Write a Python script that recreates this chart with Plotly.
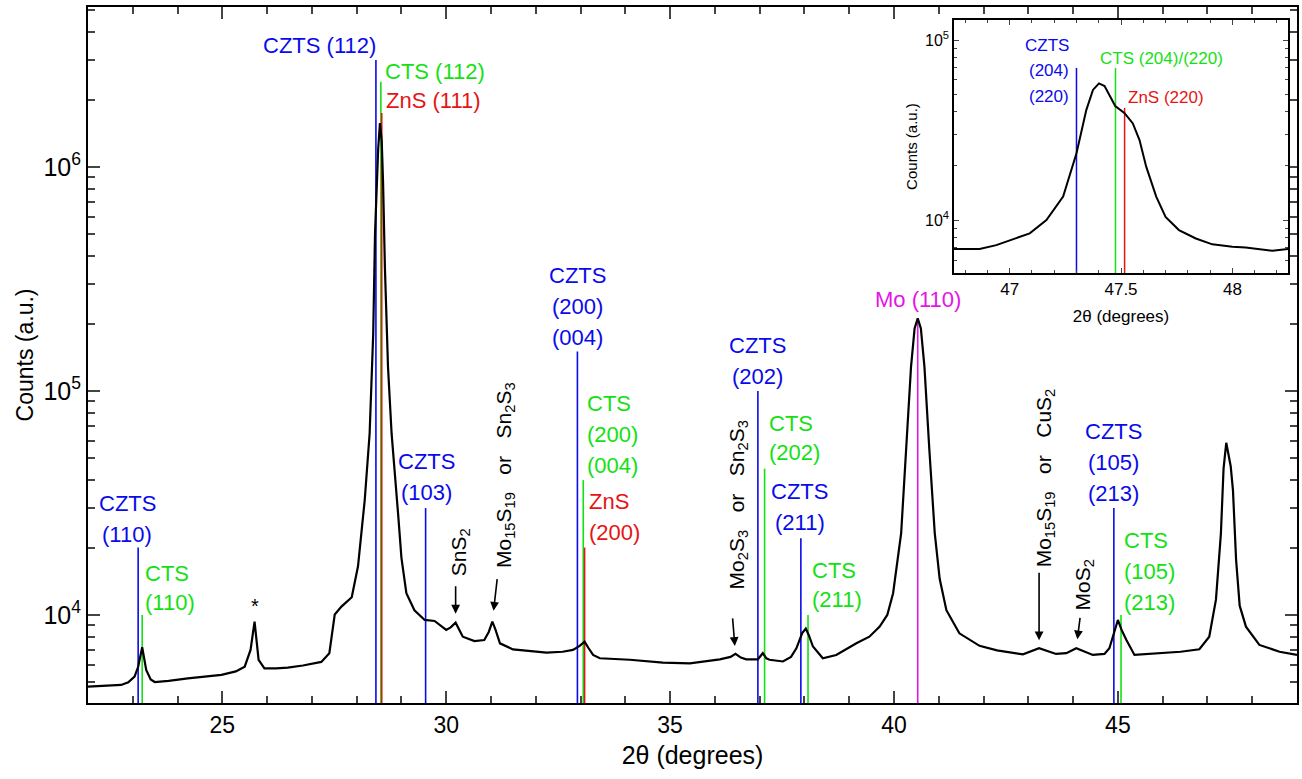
import plotly.graph_objects as go
import math

# ---------------- data ----------------
two_theta = [22.0, 22.4, 22.74, 22.9, 23.04, 23.12, 23.21, 23.30, 23.40, 23.49, 23.8, 24.23, 24.6, 24.98,
             25.3, 25.5, 25.63, 25.72, 25.81, 25.94, 26.2, 26.46, 26.8, 27.21, 27.39, 27.45, 27.51, 27.66,
             27.80, 27.89, 28.03, 28.18, 28.29, 28.37, 28.41, 28.48, 28.52, 28.56, 28.59, 28.63, 28.70,
             28.78, 28.93, 29.0, 29.11, 29.29, 29.52, 29.74, 30.0, 30.10, 30.21, 30.30, 30.37, 30.63,
             30.85, 30.95, 31.03, 31.10, 31.2, 31.49, 31.9, 32.24, 32.6, 32.83, 32.98, 33.09, 33.18,
             33.28, 33.43, 34.1, 34.84, 35.44, 36.11, 36.35, 36.46, 36.58, 36.70, 36.96, 37.07, 37.15,
             37.22, 37.52, 37.70, 37.82, 37.95, 38.03, 38.10, 38.19, 38.41, 38.71, 39.16, 39.45, 39.68,
             39.85, 39.98, 40.16, 40.27, 40.38, 40.46, 40.53, 40.60, 40.68, 40.79, 40.91, 41.02, 41.17,
             41.46, 41.91, 42.3, 42.65, 42.88, 43.24, 43.62, 43.85, 44.07, 44.44, 44.70, 44.81, 44.92,
             45.0, 45.08, 45.19, 45.37, 45.7, 46.0, 46.4, 46.82, 47.04, 47.19, 47.30, 47.36, 47.42,
             47.47, 47.52, 47.57, 47.64, 47.72, 47.86, 48.16, 48.61, 49.0]
counts = [4790, 4850, 4870, 5000, 5310, 5870, 7180, 5680, 5150, 5020, 5080, 5210, 5300, 5400,
          5600, 5880, 6980, 9330, 6300, 5780, 5780, 5820, 5950, 6170, 6750, 8500, 10050, 10900,
          11500, 12000, 16500, 32600, 64700, 181000, 506000, 1200000, 1570000, 1300000, 845000, 359000, 128000,
          64600, 27500, 18000, 12500, 10500, 9500, 9400, 8570, 8800, 9240, 8500, 8000, 7650,
          7730, 8400, 9330, 8600, 7470, 7020, 6900, 6790, 6850, 6980, 7280, 7600, 7100,
          6630, 6410, 6310, 6130, 6080, 6340, 6500, 6700, 6450, 6340, 6340, 6750, 6400,
          6310, 6200, 6500, 7100, 8300, 8700, 8100, 7230, 6410, 6630, 7470, 8000, 8870,
          10000, 12500, 23200, 54500, 128000, 190000, 211000, 190000, 128000, 54500, 23200, 14500, 10500,
          8280, 7280, 6950, 6790, 6670, 7100, 6700, 6750, 7100, 6630, 6700, 7100, 8300,
          9500, 8600, 7730, 6630, 6700, 6750, 6850, 7030, 8000, 11700, 23000, 45000, 58700,
          52000, 46000, 36000, 17600, 11000, 8870, 7350, 6850, 6630]

inset_theta = [46.75, 46.865, 46.94, 47.0, 47.09, 47.165, 47.24, 47.30, 47.344, 47.374, 47.401, 47.426,
               47.449, 47.474, 47.516, 47.553, 47.583, 47.613, 47.658, 47.70, 47.76, 47.836, 47.91,
               48.0, 48.06, 48.18, 48.25]
inset_counts = [6900, 6900, 7260, 7740, 8440, 10000, 13500, 23500, 40800, 52800, 57400, 55500,
                49400, 43000, 39200, 34400, 27800, 19800, 13500, 10400, 8800, 7900, 7330,
                7110, 7050, 6760, 6900]

# reference reflections (main panel): phase, position, marker height
ref_phase = ["CZTS", "CTS", "CZTS", "CTS", "ZnS", "CZTS", "CZTS", "CTS", "ZnS", "CZTS", "CTS",
             "CZTS", "CTS", "Mo", "CZTS", "CTS"]
ref_pos = [23.12, 23.21, 28.43, 28.54, 28.56, 29.54, 32.93, 33.06, 33.09, 36.96, 37.11,
           37.92, 38.08, 40.53, 44.91, 45.07]
ref_top = [2.0e4, 1.0e4, 3.0e6, 2.4e6, 1.74e6, 3.0e4, 1.5e5, 4.0e4, 2.0e4, 1.0e5, 4.5e4,
           2.2e4, 1.0e4, 2.1e5, 3.0e4, 1.0e4]
ref_labels = [["CZTS", "(110)"], ["CTS", "(110)"], ["CZTS (112)"], ["CTS (112)"], ["ZnS (111)"],
              ["CZTS", "(103)"], ["CZTS", "(200)", "(004)"], ["CTS", "(200)", "(004)"],
              ["ZnS", "(200)"], ["CZTS", "(202)"], ["CTS", "(202)"], ["CZTS", "(211)"],
              ["CTS", "(211)"], ["Mo (110)"], ["CZTS", "(105)", "(213)"], ["CTS", "(105)", "(213)"]]

# inset reflections
inset_phase = ["CZTS", "CTS", "ZnS"]
inset_pos = [47.30, 47.475, 47.516]
inset_top = [7.0e4, 7.0e4, 4.2e4]

# secondary phase markers (peak position, text)
minor_pos = [30.21, 31.03, 36.46, 43.24, 44.07]
minor_text = ["SnS<sub>2</sub>",
              "Mo<sub>15</sub>S<sub>19</sub>\u00a0\u00a0\u00a0or\u00a0\u00a0\u00a0Sn<sub>2</sub>S<sub>3</sub>",
              "Mo<sub>2</sub>S<sub>3</sub>\u00a0\u00a0\u00a0or\u00a0\u00a0\u00a0Sn<sub>2</sub>S<sub>3</sub>",
              "Mo<sub>15</sub>S<sub>19</sub>\u00a0\u00a0\u00a0or\u00a0\u00a0\u00a0CuS<sub>2</sub>",
              "MoS<sub>2</sub>"]
star_pos = 25.72

# ---------------- styling ----------------
FONT = "Liberation Sans, Arial, sans-serif"
colors = {"CZTS": "rgb(10,10,235)", "CTS": "rgb(20,225,20)", "ZnS": "rgb(230,20,20)",
          "Mo": "rgb(230,20,230)"}
X_RANGE = [22, 49]
Y_RANGE = [3.607, 6.714]
IX_RANGE = [46.75, 48.25]
IY_RANGE = [3.706, 5.111]
y_floor = 10 ** Y_RANGE[0]
iy_floor = 10 ** IY_RANGE[0]


def peak_value(x):
    # value of the measured curve at a position (nearest sample)
    i = min(range(len(two_theta)), key=lambda k: abs(two_theta[k] - x))
    return counts[i]


fig = go.Figure()

# reference lines
for ph in ["CZTS", "CTS", "ZnS", "Mo"]:
    xs, ys = [], []
    for p, x, t in zip(ref_phase, ref_pos, ref_top):
        if p == ph:
            xs += [x, x, None]
            ys += [y_floor, t, None]
    fig.add_trace(go.Scatter(x=xs, y=ys, mode="lines", line=dict(color=colors[ph], width=1.6),
                             hoverinfo="skip", showlegend=False))
for ph, x, t in zip(inset_phase, inset_pos, inset_top):
    fig.add_trace(go.Scatter(x=[x, x], y=[iy_floor, t], mode="lines", xaxis="x2", yaxis="y2",
                             line=dict(color=colors[ph], width=1.5), hoverinfo="skip", showlegend=False))

fig.add_trace(go.Scatter(x=two_theta, y=counts, mode="lines", line=dict(color="black", width=2.2),
                         showlegend=False))
fig.add_trace(go.Scatter(x=inset_theta, y=inset_counts, mode="lines", xaxis="x2", yaxis="y2",
                         line=dict(color="black", width=2), showlegend=False))

annotations = []
LS = 31  # line spacing in px
# label placement: (xanchor, xshift, yshift of last line)
label_place = [("center", -11, 13), ("left", 1, 12), ("right", 2, 15), ("left", 2, 10),
               ("left", 2, 13), ("center", 1, 16), ("center", 0, 14), ("left", 2, 15),
               ("left", 2, 15), ("center", 0, 14), ("left", 2, 16), ("center", -1, 16),
               ("left", 2, 15), ("center", 0, 19), ("center", 0, 15), ("left", 1, 12)]
for ph, x, t, lines, (xa, xs, ys) in zip(ref_phase, ref_pos, ref_top, ref_labels, label_place):
    n = len(lines)
    for i, txt in enumerate(lines):
        annotations.append(dict(x=x, y=math.log10(t), xref="x", yref="y", text=txt, showarrow=False,
                                xanchor=xa, yanchor="middle", xshift=xs,
                                yshift=ys + (n - 1 - i) * (LS if n > 2 or ph != "CTS" else 29),
                                font=dict(family=FONT, size=22, color=colors[ph])))

# inset labels
inset_lab = [[("CZTS", 22), ("(204)", -3), ("(220)", -29)], [("CTS (204)/(220)", 9)], [("ZnS (220)", 10)]]
inset_anchor = [("right", -5), ("left", -17), ("left", 1)]
for ph, x, t, labs, (xa, xs) in zip(inset_phase, inset_pos, inset_top, inset_lab, inset_anchor):
    for txt, ys in labs:
        annotations.append(dict(x=x, y=math.log10(t), xref="x2", yref="y2", text=txt, showarrow=False,
                                xanchor=xa, yanchor="middle", xshift=xs, yshift=ys,
                                font=dict(family=FONT, size=17, color=colors[ph])))

# secondary phase texts and arrows
text_shift = [(4, 70), (12, 147), (2, 149), (6, 170), (8, 63)]
arrow_geo = [(0, -38, 9), (5, -44, 11), (-3, -37, 8), (0, -77, 8), (4, -32, 9)]
for x, txt, (xs, ys), (ax, ay, so) in zip(minor_pos, minor_text, text_shift, arrow_geo):
    yv = math.log10(peak_value(x))
    annotations.append(dict(x=x, y=yv, xref="x", yref="y", text=txt, showarrow=False, textangle=-90,
                            xanchor="center", yanchor="middle", xshift=xs, yshift=ys,
                            font=dict(family=FONT, size=21, color="black")))
    annotations.append(dict(x=x, y=yv, xref="x", yref="y", text="", showarrow=True, ax=ax, ay=ay,
                            axref="pixel", ayref="pixel", standoff=so, arrowhead=2, arrowsize=1.1,
                            arrowwidth=1.6, arrowcolor="black", font=dict(size=12)))
annotations.append(dict(x=star_pos, y=math.log10(peak_value(star_pos)), xref="x", yref="y", text="*",
                        showarrow=False, yshift=16, font=dict(family=FONT, size=20, color="black")))

axis_common = dict(showline=True, linecolor="black", mirror="allticks", ticks="inside",
                   showgrid=False, zeroline=False, automargin=False)

fig.update_layout(
    width=1302, height=779,
    margin=dict(l=88, r=5, t=7, b=76),
    paper_bgcolor="white", plot_bgcolor="white",
    font=dict(family=FONT, color="black"),
    xaxis=dict(range=X_RANGE, tickvals=[25, 30, 35, 40, 45], ticklen=12, tickwidth=2, linewidth=2,
               tickfont=dict(size=23), title=dict(text="2θ (degrees)", font=dict(size=25), standoff=10),
               minor=dict(dtick=1, ticklen=7, tickwidth=1.5, ticks="inside", showgrid=False),
               **axis_common),
    yaxis=dict(type="log", range=Y_RANGE, tickvals=[1e4, 1e5, 1e6],
               ticktext=["10<sup>4</sup>", "10<sup>5</sup>", "10<sup>6</sup>"],
               ticklen=12, tickwidth=2, linewidth=2, tickfont=dict(size=25),
               title=dict(text="Counts (a.u.)", font=dict(size=23), standoff=3),
               minor=dict(dtick="D1", ticklen=7, tickwidth=1.5, ticks="inside", showgrid=False),
               **axis_common),
    xaxis2=dict(domain=[0.7163, 0.9926], anchor="y2", range=IX_RANGE, tickvals=[47, 47.5, 48],
                ticklen=5, tickwidth=1.2, linewidth=1.5, tickfont=dict(size=17),
                title=dict(text="2θ (degrees)", font=dict(size=17), standoff=12),
                minor=dict(dtick=0.1, ticklen=3, ticks="inside", showgrid=False),
                **axis_common),
    yaxis2=dict(domain=[0.6178, 0.9813], anchor="x2", type="log", range=IY_RANGE,
                tickvals=[1e4, 1e5], ticktext=["10<sup>4</sup>", "10<sup>5</sup>"],
                ticklen=5, tickwidth=1.2, linewidth=1.5, tickfont=dict(size=16),
                title=dict(text="Counts (a.u.)", font=dict(size=15), standoff=4),
                minor=dict(dtick="D1", ticklen=3, ticks="inside", showgrid=False),
                **axis_common),
    annotations=annotations,
    showlegend=False,
)

fig.write_html("out.html", config={"displayModeBar": False},
               post_script="document.body.style.margin='0';document.body.style.overflow='hidden';")
